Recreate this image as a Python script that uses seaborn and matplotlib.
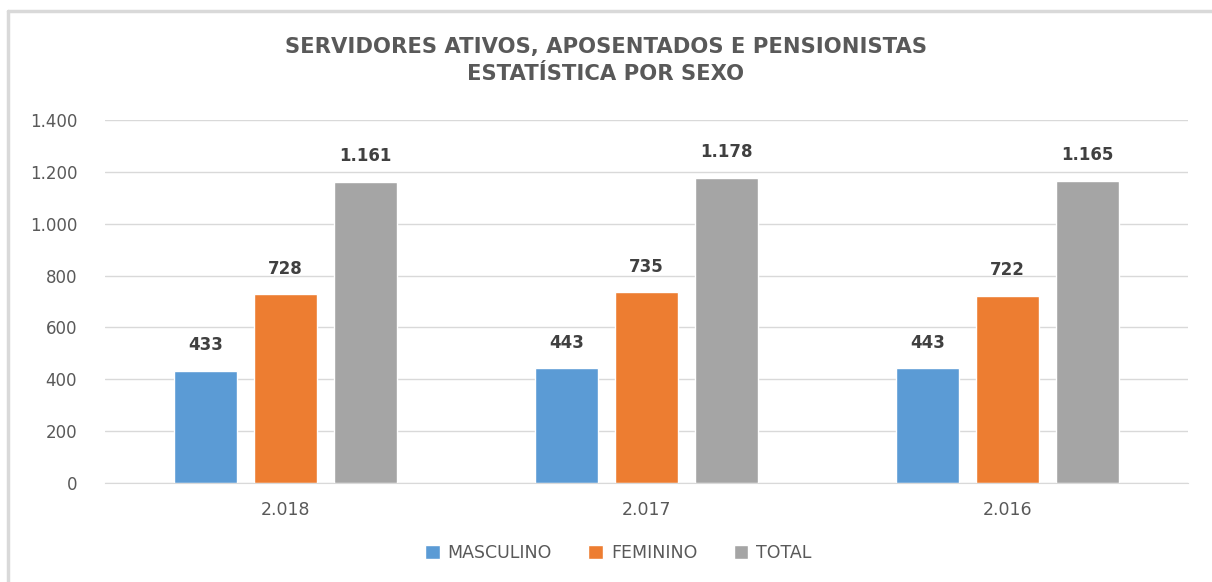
import matplotlib
matplotlib.use("Agg")
import matplotlib.pyplot as plt
import seaborn as sns
import pandas as pd

years = ["2.018", "2.017", "2.016"]
series = ["MASCULINO", "FEMININO", "TOTAL"]
masculino = [433, 443, 443]
feminino = [728, 735, 722]
total = [1161, 1178, 1165]
yticks = [0, 200, 400, 600, 800, 1000, 1200, 1400]
colors = ["#5B9BD5", "#ED7D31", "#A5A5A5"]

rows = []
for i, y in enumerate(years):
    for s, vals in zip(series, [masculino, feminino, total]):
        rows.append({"ano": y, "serie": s, "valor": vals[i]})
df = pd.DataFrame(rows)

def fmt(v):
    return f"{int(v):,}".replace(",", ".")

sns.set_style("white")
plt.rcParams["font.family"] = ["DejaVu Sans"]

fig = plt.figure(figsize=(12.12, 5.82), dpi=100)
ax = fig.add_axes([0.0866, 0.170, 0.8934, 0.6238])

sns.barplot(data=df, x="ano", y="valor", hue="serie", order=years,
            hue_order=series, palette=colors, width=0.665, gap=0.2125,
            saturation=1, ax=ax, legend=True)

ax.set_ylim(0, 1400)
ax.set_xlim(-0.5, 2.5)
ax.set_yticks(yticks)
ax.set_yticklabels([fmt(t) for t in yticks], fontsize=12, color="#595959")
ax.tick_params(axis="y", length=0, pad=20)
ax.tick_params(axis="x", length=0, pad=13, labelsize=12.5, labelcolor="#595959")
ax.set_xlabel("")
ax.set_ylabel("")
ax.yaxis.grid(True, color="#d9d9d9", linewidth=1)
ax.set_axisbelow(True)
for sp in ["top", "right", "left"]:
    ax.spines[sp].set_visible(False)
ax.spines["bottom"].set_color("#d9d9d9")

for cont in ax.containers:
    ax.bar_label(cont, labels=[fmt(v) for v in cont.datavalues], padding=12,
                 fontsize=12, fontweight="bold", color="#404040")

h, l = ax.get_legend_handles_labels()
ax.legend(h, l, loc="center", bbox_to_anchor=(0.474, -0.193), ncol=3,
          frameon=False, fontsize=12.5, handlelength=0.85, handleheight=0.85,
          columnspacing=2.1, handletextpad=0.45, labelcolor="#595959")

fig.text(0.5, 0.920, "SERVIDORES ATIVOS, APOSENTADOS E PENSIONISTAS",
         ha="center", va="center", fontsize=15.2, fontweight="bold", color="#595959")
fig.text(0.5, 0.873, "ESTATÍSTICA POR SEXO",
         ha="center", va="center", fontsize=15.2, fontweight="bold", color="#595959")

# chart frame (top and left edges visible)
fig.add_artist(plt.Line2D([0.0066, 0.0066], [0, 0.981], color="#d9d9d9", lw=2.5))
fig.add_artist(plt.Line2D([0.0066, 1.0], [0.981, 0.981], color="#d9d9d9", lw=2.5))

fig.savefig("out.png", dpi=100)
